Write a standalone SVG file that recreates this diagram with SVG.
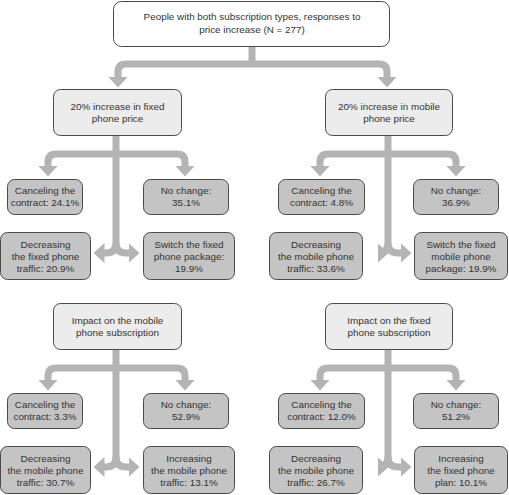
<svg xmlns="http://www.w3.org/2000/svg" width="509" height="495" viewBox="0 0 509 495">
<style>
.top{fill:#ffffff;stroke:#4a4a4a;stroke-width:1}
.l2{fill:#ececec;stroke:#4a4a4a;stroke-width:1}
.lf{fill:#c4c4c4;stroke:#4a4a4a;stroke-width:1}
.t{font-family:"Liberation Sans",Arial,sans-serif;font-size:9.9px;fill:#333333;text-anchor:middle}
.c{fill:none;stroke:#b4b4b4;stroke-width:7}
.ca{fill:none;stroke:#b4b4b4;stroke-width:7;marker-end:url(#ah)}
.cb{fill:none;stroke:#b4b4b4;stroke-width:7;marker-start:url(#ah);marker-end:url(#ah)}
</style>
<defs>
<marker id="ah" markerUnits="userSpaceOnUse" viewBox="0 0 11 20" refX="0.5" refY="10" markerWidth="11" markerHeight="20" orient="auto-start-reverse">
<path d="M0,0 L11,10 L0,20 Z" fill="#b4b4b4"/>
</marker>
</defs>
<g id="connectors">
<path class="c" d="M252,46 V64"/>
<path class="cb" d="M118,77 V72 Q118,64 126,64 H379 Q387,64 387,72 V77"/>
<path class="c" d="M116,136 V244"/>
<path class="cb" d="M48,166 V162 Q48,154 56,154 H177 Q185,154 185,162 V166"/>
<path class="ca" d="M116,243 Q116,253 106,253 H104"/>
<path class="ca" d="M116,243 Q116,253 126,253 H129"/>
<path class="c" d="M388,136 V244"/>
<path class="cb" d="M320,166 V162 Q320,154 328,154 H448 Q456,154 456,162 V166"/>
<path class="ca" d="M388,243 Q388,253 378,253 H378"/>
<path class="ca" d="M388,243 Q388,253 398,253 H401"/>
<path class="c" d="M116,350 V458"/>
<path class="cb" d="M48,380 V376 Q48,368 56,368 H177 Q185,368 185,376 V380"/>
<path class="ca" d="M116,457 Q116,467 106,467 H104"/>
<path class="ca" d="M116,457 Q116,467 126,467 H129"/>
<path class="c" d="M388,350 V458"/>
<path class="cb" d="M320,380 V376 Q320,368 328,368 H448 Q456,368 456,376 V380"/>
<path class="ca" d="M388,457 Q388,467 378,467 H378"/>
<path class="ca" d="M388,457 Q388,467 398,467 H401"/>
</g>
<g id="root">
<rect class="top" x="113.5" y="1.5" width="276" height="45" rx="8"/>
<text class="t" x="252" y="20">People with both subscription types, responses to</text>
<text class="t" x="252" y="33">price increase (N = 277)</text>
</g>
<g id="fixed-price">
<rect class="l2" x="53.5" y="89.5" width="128" height="46" rx="7"/>
<text class="t" x="117.5" y="109.5">20% increase in fixed</text>
<text class="t" x="117.5" y="121.5">phone price</text>
</g>
<g id="fp-cancel">
<rect class="lf" x="7.5" y="179.5" width="75" height="35" rx="7"/>
<text class="t" x="45" y="193.5">Canceling the</text>
<text class="t" x="45" y="205.5">contract: 24.1%</text>
</g>
<g id="fp-nochange">
<rect class="lf" x="143.5" y="179.5" width="85" height="35" rx="7"/>
<text class="t" x="186" y="193.5">No change:</text>
<text class="t" x="186" y="205.5">35.1%</text>
</g>
<g id="fp-decrease">
<rect class="lf" x="0.5" y="232.5" width="90" height="47" rx="7"/>
<text class="t" x="45.5" y="247.5">Decreasing</text>
<text class="t" x="45.5" y="259.5">the fixed phone</text>
<text class="t" x="45.5" y="271.5">traffic: 20.9%</text>
</g>
<g id="fp-switch">
<rect class="lf" x="143.5" y="232.5" width="91" height="47" rx="7"/>
<text class="t" x="189" y="247.5">Switch the fixed</text>
<text class="t" x="189" y="259.5">phone package:</text>
<text class="t" x="189" y="271.5">19.9%</text>
</g>
<g id="mobile-price">
<rect class="l2" x="325.5" y="89.5" width="127" height="46" rx="7"/>
<text class="t" x="389" y="109.5">20% increase in mobile</text>
<text class="t" x="389" y="121.5">phone price</text>
</g>
<g id="mp-cancel">
<rect class="lf" x="278.5" y="179.5" width="86" height="35" rx="7"/>
<text class="t" x="321.5" y="193.5">Canceling the</text>
<text class="t" x="321.5" y="205.5">contract: 4.8%</text>
</g>
<g id="mp-nochange">
<rect class="lf" x="413.5" y="179.5" width="85" height="35" rx="7"/>
<text class="t" x="456" y="193.5">No change:</text>
<text class="t" x="456" y="205.5">36.9%</text>
</g>
<g id="mp-decrease">
<rect class="lf" x="269.5" y="232.5" width="93" height="47" rx="7"/>
<text class="t" x="316" y="247.5">Decreasing</text>
<text class="t" x="316" y="259.5">the mobile phone</text>
<text class="t" x="316" y="271.5">traffic: 33.6%</text>
</g>
<g id="mp-switch">
<rect class="lf" x="414.5" y="232.5" width="93" height="47" rx="7"/>
<text class="t" x="461" y="247.5">Switch the fixed</text>
<text class="t" x="461" y="259.5">mobile phone</text>
<text class="t" x="461" y="271.5">package: 19.9%</text>
</g>
<g id="mobile-sub">
<rect class="l2" x="53.5" y="303.5" width="128" height="46" rx="7"/>
<text class="t" x="117.5" y="323.5">Impact on the mobile</text>
<text class="t" x="117.5" y="335.5">phone subscription</text>
</g>
<g id="ms-cancel">
<rect class="lf" x="7.5" y="393.5" width="75" height="35" rx="7"/>
<text class="t" x="45" y="407.5">Canceling the</text>
<text class="t" x="45" y="419.5">contract: 3.3%</text>
</g>
<g id="ms-nochange">
<rect class="lf" x="143.5" y="393.5" width="85" height="35" rx="7"/>
<text class="t" x="186" y="407.5">No change:</text>
<text class="t" x="186" y="419.5">52.9%</text>
</g>
<g id="ms-decrease">
<rect class="lf" x="0.5" y="446.5" width="90" height="47" rx="7"/>
<text class="t" x="45.5" y="461.5">Decreasing</text>
<text class="t" x="45.5" y="473.5">the mobile phone</text>
<text class="t" x="45.5" y="485.5">traffic: 30.7%</text>
</g>
<g id="ms-increase">
<rect class="lf" x="143.5" y="446.5" width="91" height="47" rx="7"/>
<text class="t" x="189" y="461.5">Increasing</text>
<text class="t" x="189" y="473.5">the mobile phone</text>
<text class="t" x="189" y="485.5">traffic: 13.1%</text>
</g>
<g id="fixed-sub">
<rect class="l2" x="325.5" y="303.5" width="127" height="46" rx="7"/>
<text class="t" x="389" y="323.5">Impact on the fixed</text>
<text class="t" x="389" y="335.5">phone subscription</text>
</g>
<g id="fs-cancel">
<rect class="lf" x="278.5" y="393.5" width="86" height="35" rx="7"/>
<text class="t" x="321.5" y="407.5">Canceling the</text>
<text class="t" x="321.5" y="419.5">contract: 12.0%</text>
</g>
<g id="fs-nochange">
<rect class="lf" x="413.5" y="393.5" width="85" height="35" rx="7"/>
<text class="t" x="456" y="407.5">No change:</text>
<text class="t" x="456" y="419.5">51.2%</text>
</g>
<g id="fs-decrease">
<rect class="lf" x="269.5" y="446.5" width="93" height="47" rx="7"/>
<text class="t" x="316" y="461.5">Decreasing</text>
<text class="t" x="316" y="473.5">the mobile phone</text>
<text class="t" x="316" y="485.5">traffic: 26.7%</text>
</g>
<g id="fs-increase">
<rect class="lf" x="414.5" y="446.5" width="93" height="47" rx="7"/>
<text class="t" x="461" y="461.5">Increasing</text>
<text class="t" x="461" y="473.5">the fixed phone</text>
<text class="t" x="461" y="485.5">plan: 10.1%</text>
</g>
</svg>
